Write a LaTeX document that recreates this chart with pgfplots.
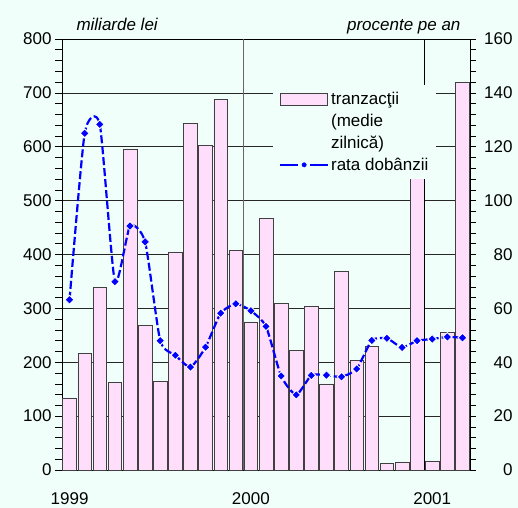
\documentclass[border=0pt]{standalone}
\usepackage{pgfplots}
\usepackage{pgfplotstable}
\pgfplotsset{compat=1.18}
\usepackage{fontspec}
\setmainfont{Liberation Sans}
\definecolor{bgcol}{RGB}{240,255,250}
\definecolor{barpink}{RGB}{255,222,252}
\newcommand\fsz{\fontsize{17bp}{19bp}\selectfont}
\pgfplotsset{
  boxlegend/.style={legend image code/.code={
    \draw[##1] (0bp,-6bp) rectangle (47bp,6bp);}},
  linelegend/.style={legend image code/.code={
    \draw[blue, line width=2bp] (0bp,0bp) -- (18bp,0bp) (30bp,0bp) -- (48bp,0bp);
    \fill[blue] (24bp,0bp) circle (2.2bp);}},
}

% month index, rata dobanzii (procente pe an)
\pgfplotstableread{
m  r
1  63.2
2  125
3  128.3
4  69.9
5  90.6
6  84.7
7  48
8  42.6
9  38.2
10 45.6
11 58.2
12 61.7
13 59.1
14 53.3
15 34.9
16 27.9
17 35.1
18 35.2
19 34.6
20 37.5
21 48.1
22 48.9
23 45.5
24 48.0
25 48.6
26 49.4
27 49.1
}\ratetable

\begin{document}
\begin{tikzpicture}
\path[use as bounding box, fill=bgcol] (-62bp,-38bp) rectangle (456bp,470bp);

% bars: tranzactii, left axis
\begin{axis}[
  scale only axis, width=408bp, height=431bp,
  at={(0,0)}, anchor=south west, clip=false,
  xmin=0.5, xmax=27.5, ymin=0, ymax=800,
  ybar, bar width=0.9,
  xtick={1,13,25}, xticklabels={1999,2000,2001},
  x tick style={draw=none},
  xticklabel style={yshift=-12bp},
  ytick={0,100,...,800}, minor y tick num=4,
  ytick pos=left, tick align=outside,
  major tick length=7bp, minor tick length=7bp,
  tick style={black, line width=0.6bp},
  ymajorgrids, major grid style={black!85, line width=0.6bp},
  axis line style={black, line width=0.8bp},
  tick label style={font=\fsz},
  /pgf/number format/assume math mode=true,
]
\addplot[fill=barpink, draw=black!75, line width=0.6bp] coordinates {
  (1,134) (2,217) (3,339) (4,162) (5,595) (6,268) (7,165) (8,405) (9,644)
  (10,602) (11,688) (12,408) (13,275) (14,467) (15,309) (16,222) (17,304)
  (18,160) (19,368) (20,204) (21,229) (22,12) (23,15) (24,550) (25,17)
  (26,256) (27,719)};
\draw[black!60, line width=1.3bp] (axis cs:12.5,0) -- (axis cs:12.5,800);
\draw[black, line width=0.8bp] (axis cs:24.5,0) -- (axis cs:24.5,800);
\node[anchor=base west, font=\fsz\itshape, xshift=11bp, yshift=9bp]
  at (rel axis cs:0,1) {miliarde lei};
\node[anchor=base east, font=\fsz\itshape, xshift=-6bp, yshift=9bp]
  at (rel axis cs:1,1) {procente pe an};
\end{axis}

% line: rata dobanzii, right axis
\begin{axis}[
  scale only axis, width=408bp, height=431bp,
  at={(0,0)}, anchor=south west,
  xmin=0.5, xmax=27.5, ymin=0, ymax=160,
  axis x line=none, axis y line*=right,
  ytick={0,20,...,160}, minor y tick num=4, tick align=outside,
  major tick length=6bp, minor tick length=6bp,
  tick style={black, line width=0.6bp},
  axis line style={black, line width=0.8bp},
  tick label style={font=\fsz},
  yticklabel style={anchor=east, xshift=40bp},
  /pgf/number format/assume math mode=true,
  legend cell align=left,
  legend style={at={(rel axis cs:0.517,0.893)}, anchor=north west,
    fill=bgcol, draw=none, font=\fsz, inner xsep=6bp, inner ysep=5bp,
    row sep=4bp},
]
\addlegendimage{fill=barpink, draw=black!75, line width=0.6bp, boxlegend}
\addlegendentry{tranzacţii}
\addlegendimage{empty legend}
\addlegendentry{(medie}
\addlegendimage{empty legend}
\addlegendentry{zilnică)}
\addlegendimage{linelegend}
\addlegendentry{rata dobânzii}
\addplot[blue, line width=2.2bp, smooth, tension=0.35,
  dash pattern=on 8bp off 3bp, forget plot] table[x=m, y=r] {\ratetable};
\addplot[only marks, mark=square*, mark size=3.1bp,
  mark options={rotate=45, fill=blue, draw=white, line width=0.8bp},
  forget plot]
  table[x=m, y=r] {\ratetable};
\end{axis}
\end{tikzpicture}
\end{document}
